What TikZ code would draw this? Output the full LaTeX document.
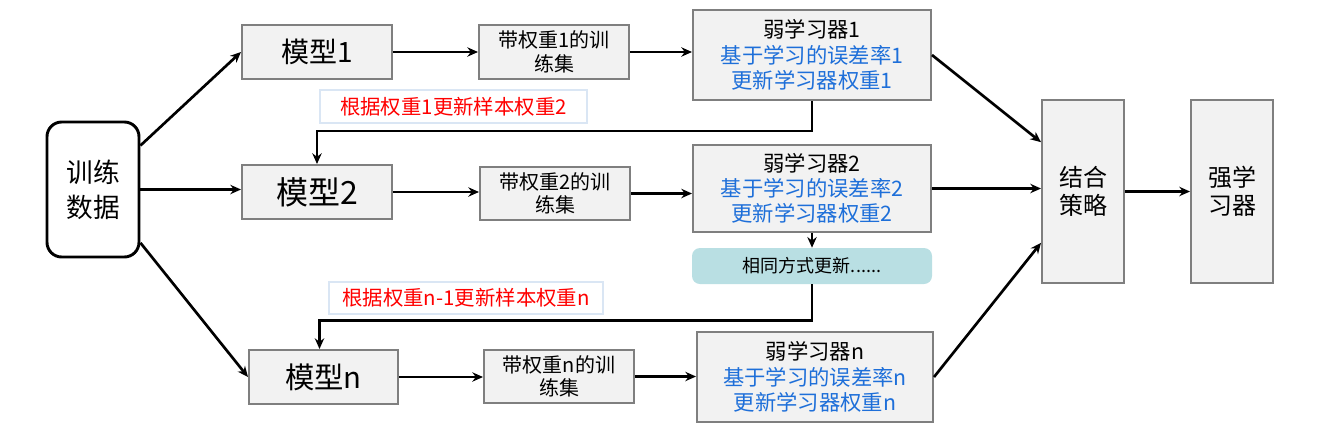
\documentclass[tikz,border=0pt]{standalone}
\usepackage{fontspec}
\setmainfont{Noto Sans CJK SC}
\usetikzlibrary{arrows.meta}
\definecolor{boxfill}{HTML}{F2F2F2}
\definecolor{boxline}{HTML}{7F7F7F}
\definecolor{tealfill}{HTML}{B9DFE3}
\definecolor{bluetxt}{HTML}{1E6FD9}
\definecolor{labline}{HTML}{DAE6F4}
\definecolor{redtxt}{HTML}{FF0000}
\begin{document}
\begin{tikzpicture}[x=0.75pt,y=-0.75pt,
  box/.style={draw=boxline, fill=boxfill, line width=1.5pt, inner sep=0pt, align=center},
  arr/.style={draw=black, line width=2pt, -{Stealth[length=8pt,width=7pt]}},
  fs/.style n args={2}{font=\fontsize{#1}{#2}\selectfont},
  lab/.style={draw=labline, fill=white, line width=0.9pt, text=redtxt, inner sep=0pt, font=\fontsize{15.3}{18}\selectfont}
]
\useasboundingbox (0,0) rectangle (1334,430);

\node[draw=black, line width=2.2pt, fill=white, rounded corners=11pt, minimum width=92*0.75pt, minimum height=135*0.75pt, align=center, fs={20}{26}] (data) at (93,189.5) {训练\\数据};

\node[box, minimum width=150*0.75pt, minimum height=54*0.75pt, fs={21}{24}] (m1) at (317,52) {模型1};
\node[box, minimum width=150*0.75pt, minimum height=54*0.75pt, fs={24}{26}] (m2) at (317,192) {模型2};
\node[box, minimum width=149*0.75pt, minimum height=54*0.75pt, fs={22}{24}] (mn) at (323.5,377) {模型n};

\node[box, minimum width=150*0.75pt, minimum height=54*0.75pt, fs={15}{17.5}] (t1) at (554,52) {带权重1的训\\练集};
\node[box, minimum width=150*0.75pt, minimum height=53*0.75pt, fs={15}{17.5}] (t2) at (555,193.5) {带权重2的训\\练集};
\node[box, minimum width=150*0.75pt, minimum height=53*0.75pt, fs={15}{17.5}] (tn) at (559,376.5) {带权重n的训\\练集};

\node[box, minimum width=238*0.75pt, minimum height=90*0.75pt, fs={16}{19}] (w1) at (812,55) {弱学习器1\\\textcolor{bluetxt}{基于学习的误差率1}\\\textcolor{bluetxt}{更新学习器权重1}};
\node[box, minimum width=238*0.75pt, minimum height=87*0.75pt, fs={16}{19}] (w2) at (812,188.5) {弱学习器2\\\textcolor{bluetxt}{基于学习的误差率2}\\\textcolor{bluetxt}{更新学习器权重2}};
\node[box, minimum width=236*0.75pt, minimum height=90*0.75pt, fs={16}{19}] (wn) at (815,377) {弱学习器n\\\textcolor{bluetxt}{基于学习的误差率n}\\\textcolor{bluetxt}{更新学习器权重n}};

\node[fill=tealfill, rounded corners=6pt, minimum width=240*0.75pt, minimum height=36*0.75pt, inner sep=0pt, fs={13.5}{16}] (up) at (812,266) {相同方式更新......};

\node[box, minimum width=82*0.75pt, minimum height=183*0.75pt, fs={18}{21}] (comb) at (1083,191.5) {结合\\策略};
\node[box, minimum width=82*0.75pt, minimum height=183*0.75pt, fs={18}{21}] (strong) at (1232,191.5) {强学\\习器};

\node[lab, minimum width=267*0.75pt, minimum height=33*0.75pt] (lab1) at (453.5,106.5) {根据权重1更新样本权重2};
\node[lab, minimum width=274*0.75pt, minimum height=32*0.75pt] (lab2) at (466,298) {根据权重n-1更新样本权重n};

% arrows from data
\draw[arr] ([yshift=33pt]data.east) -- (m1.west);
\draw[arr] (data.east) -- (data.east -| m2.west);
\draw[arr] ([yshift=-40pt]data.east) -- (mn.west);

% model -> training set -> weak learner
\draw[arr] (m1.east) -- (t1.west);
\draw[arr] (t1.east) -- (t1.east -| w1.west);
\draw[arr] (m2.east) -- (m2.east -| t2.west);
\draw[arr] (t2.east) -- (t2.east -| w2.west);
\draw[arr] (mn.east) -- (mn.east -| tn.west);
\draw[arr] (tn.east) -- (tn.east -| wn.west);

% feedback
\draw[arr] (w1.south) -- ++(0,30) -| (m2.north);
\draw[arr] (w2.south) -- (up.north);
\draw[arr] (up.south) -- ++(0,36) -| ([xshift=-3pt]mn.north);

% combine
\draw[arr] (w1.east) -- ([yshift=37pt]comb.west);
\draw[arr] (w2.east) -- (w2.east -| comb.west);
\draw[arr] (wn.east) -- ([yshift=-38.5pt]comb.west);
\draw[arr] (comb.east) -- (strong.west);
\end{tikzpicture}
\end{document}
